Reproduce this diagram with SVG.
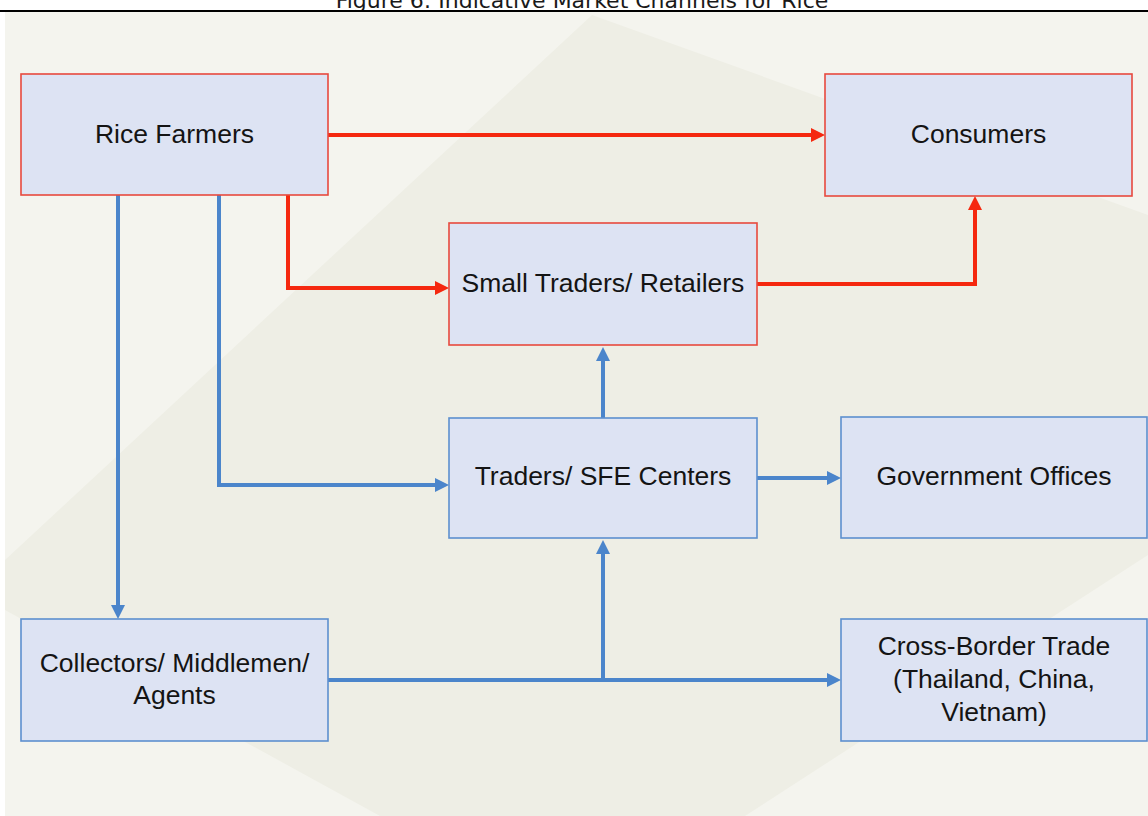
<svg xmlns="http://www.w3.org/2000/svg" width="1148" height="816" viewBox="0 0 1148 816">
  <style>
    .title { font-family: "DejaVu Sans", Verdana, sans-serif; font-size: 22px; fill: #1a1a1a; }
    .box-red { fill: #dde3f3; stroke: #e8493e; stroke-width: 1.6; }
    .box-blue { fill: #dde3f3; stroke: #5d8fcf; stroke-width: 1.6; }
    .label { font-family: "Liberation Sans", Arial, sans-serif; font-size: 26.5px; fill: #141414; text-anchor: middle; }
    .flow-red { fill: none; stroke: #f5280f; stroke-width: 4; stroke-linejoin: miter; }
    .flow-blue { fill: none; stroke: #4b85cb; stroke-width: 4; stroke-linejoin: miter; }
  </style>
  <defs>
    <marker id="arrow-red" viewBox="0 0 14 14" refX="6" refY="7" markerWidth="14" markerHeight="14" orient="auto" markerUnits="userSpaceOnUse">
      <path d="M0,0 L14,7 L0,14 z" fill="#f5280f"/>
    </marker>
    <marker id="arrow-blue" viewBox="0 0 14 14" refX="6" refY="7" markerWidth="14" markerHeight="14" orient="auto" markerUnits="userSpaceOnUse">
      <path d="M0,0 L14,7 L0,14 z" fill="#4b85cb"/>
    </marker>
  </defs>

  <!-- page and caption -->
  <rect x="0" y="0" width="1148" height="816" fill="#ffffff"/>
  <text class="title" x="582" y="8" text-anchor="middle">Figure 6: Indicative Market Channels for Rice</text>
  <line x1="0" y1="11" x2="1148" y2="11" stroke="#000000" stroke-width="2"/>

  <!-- slide background -->
  <g id="background">
    <rect x="5" y="12" width="1143" height="804" fill="#f4f4ee"/>
    <polygon points="592,15 1148,215 1148,555 745,816 380,816 5,610 5,560" fill="#eeeee5"/>
  </g>

  <!-- connectors -->
  <g id="connectors">
    <path class="flow-red" d="M328,135 H817" marker-end="url(#arrow-red)"/>
    <path class="flow-red" d="M288,195 V288 H441" marker-end="url(#arrow-red)"/>
    <path class="flow-red" d="M757,284 H975 V204" marker-end="url(#arrow-red)"/>
    <path class="flow-blue" d="M118,195 V611" marker-end="url(#arrow-blue)"/>
    <path class="flow-blue" d="M219,195 V485 H441" marker-end="url(#arrow-blue)"/>
    <path class="flow-blue" d="M603,418 V355" marker-end="url(#arrow-blue)"/>
    <path class="flow-blue" d="M757,478 H833" marker-end="url(#arrow-blue)"/>
    <path class="flow-blue" d="M328,680 H833" marker-end="url(#arrow-blue)"/>
    <path class="flow-blue" d="M603,680 V548" marker-end="url(#arrow-blue)"/>
  </g>

  <!-- nodes -->
  <g id="rice-farmers">
    <rect class="box-red" x="21" y="74" width="307" height="121"/>
    <text class="label" x="174.5" y="143">Rice Farmers</text>
  </g>
  <g id="consumers">
    <rect class="box-red" x="825" y="74" width="307" height="122"/>
    <text class="label" x="978.5" y="143">Consumers</text>
  </g>
  <g id="small-traders">
    <rect class="box-red" x="449" y="223" width="308" height="122"/>
    <text class="label" x="603" y="292">Small Traders/ Retailers</text>
  </g>
  <g id="traders-sfe">
    <rect class="box-blue" x="449" y="418" width="308" height="120"/>
    <text class="label" x="603" y="485">Traders/ SFE Centers</text>
  </g>
  <g id="government">
    <rect class="box-blue" x="841" y="417" width="306" height="121"/>
    <text class="label" x="994" y="485">Government Offices</text>
  </g>
  <g id="collectors">
    <rect class="box-blue" x="21" y="619" width="307" height="122"/>
    <text class="label" x="174.5" y="672">Collectors/ Middlemen/</text>
    <text class="label" x="174.5" y="704">Agents</text>
  </g>
  <g id="cross-border">
    <rect class="box-blue" x="841" y="619" width="306" height="122"/>
    <text class="label" x="994" y="655">Cross-Border Trade</text>
    <text class="label" x="994" y="688">(Thailand, China,</text>
    <text class="label" x="994" y="721">Vietnam)</text>
  </g>
</svg>
